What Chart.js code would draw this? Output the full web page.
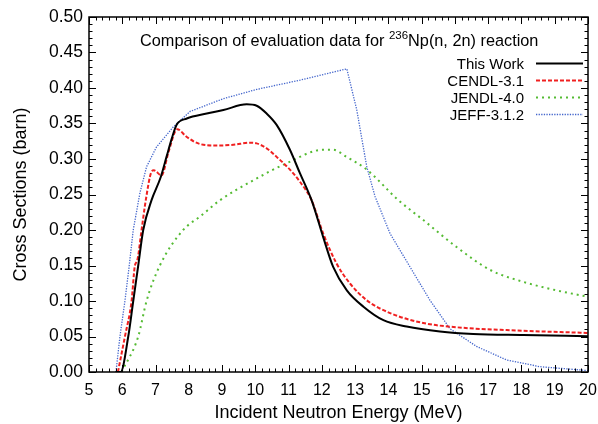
<!DOCTYPE html>
<html>
<head>
<meta charset="utf-8">
<script src="https://cdn.jsdelivr.net/npm/chart.js@4/dist/chart.umd.min.js"></script>
<style>
  html, body { margin:0; padding:0; background:#fff; }
  #wrap { width:598px; height:424px; position:relative; }
</style>
</head>
<body>
<div id="wrap"><canvas id="xsChart"></canvas></div>
<script>
// energies (MeV) and cross sections (barn)
const thisWorkE  = [5.8, 5.95, 6.18, 6.33, 6.48, 6.63, 6.88, 7.16, 7.33, 7.49, 7.63, 7.94, 8.54, 9.04, 9.74, 10.04, 10.34, 10.64, 11.04, 11.34, 11.69, 12.04, 12.34, 12.75, 13.25, 13.85, 14.55, 15.55, 16.55, 18.05, 20];
const thisWorkXS = [0, 0, 0.05, 0.10, 0.15, 0.20, 0.242, 0.275, 0.303, 0.329, 0.348, 0.357, 0.364, 0.369, 0.377, 0.375, 0.364, 0.348, 0.313, 0.280, 0.242, 0.19, 0.148, 0.115, 0.092, 0.073, 0.064, 0.057, 0.0535, 0.052, 0.0505];

const cendlE  = [5.87, 6.08, 6.28, 6.38, 6.45, 6.58, 6.70, 6.88, 6.95, 7.18, 7.38, 7.58, 7.65, 7.94, 8.34, 8.84, 9.34, 9.84, 10.04, 10.34, 10.64, 11.04, 11.34, 11.69, 12.04, 12.44, 12.84, 13.35, 14.05, 15.05, 16.05, 17.55, 20];
const cendlXS = [0, 0.05, 0.10, 0.15, 0.157, 0.20, 0.24, 0.282, 0.284, 0.277, 0.308, 0.338, 0.342, 0.331, 0.321, 0.319, 0.320, 0.323, 0.322, 0.315, 0.303, 0.285, 0.268, 0.242, 0.195, 0.153, 0.125, 0.101, 0.083, 0.069, 0.063, 0.059, 0.055];

const jendlE  = [5.98, 6.48, 6.73, 7.13, 7.83, 8.34, 8.94, 9.94, 10.94, 12.04, 12.34, 12.74, 13.35, 14.30, 15.05, 16.05, 17.05, 18.05, 19.05, 20];
const jendlXS = [0, 0.05, 0.10, 0.15, 0.20, 0.219, 0.242, 0.270, 0.294, 0.313, 0.313, 0.303, 0.285, 0.242, 0.214, 0.176, 0.144, 0.127, 0.115, 0.106];

const jeffE  = [5.81, 5.93, 6.08, 6.21, 6.33, 6.53, 6.73, 7.03, 7.53, 8.04, 9.04, 10.04, 11.34, 12.75, 13.05, 13.35, 13.6, 14.05, 14.65, 15.25, 15.85, 16.65, 17.55, 18.55, 20];
const jeffXS = [0, 0.05, 0.10, 0.15, 0.20, 0.252, 0.289, 0.317, 0.345, 0.367, 0.385, 0.398, 0.411, 0.427, 0.369, 0.289, 0.247, 0.195, 0.148, 0.101, 0.061, 0.036, 0.017, 0.0075, 0.002];

const seriesNames = ['This Work', 'CENDL-3.1', 'JENDL-4.0', 'JEFF-3.1.2'];
const xRange = [5, 20];
const yRange = [0, 0.5];

const FONT = "'Liberation Sans', Arial, Helvetica, sans-serif";

function pts(xs, ys){ return xs.map((x, i) => ({ x, y: ys[i] })); }

const styles = [
  { color:'#000000', width:2,   dash:[],         mono:true },
  { color:'#f02020', width:2,   dash:[4, 2],     mono:true },
  { color:'#55bb33', width:2,   dash:[2, 4],     mono:true },
  { color:'#4466cc', width:1.3, dash:[1.3, 1.3], mono:false }
];
const rawData = [[thisWorkE, thisWorkXS], [cendlE, cendlXS], [jendlE, jendlXS], [jeffE, jeffXS]];

const datasets = rawData.map((d, i) => ({
  label: seriesNames[i],
  data: pts(d[0], d[1]),
  borderColor: styles[i].color,
  borderWidth: styles[i].width,
  borderDash: styles[i].dash,
  pointRadius: 0,
  fill: false,
  cubicInterpolationMode: styles[i].mono ? 'monotone' : 'default',
  tension: 0
}));

// frame with inward major/minor ticks on all four sides
const framePlugin = {
  id: 'frame',
  afterDraw(chart){
    const { ctx, chartArea: a, scales } = chart;
    const xs = scales.x, ys = scales.y;
    ctx.save();
    ctx.strokeStyle = '#000';
    ctx.lineWidth = 1;
    ctx.beginPath();
    for(let v = 5; v <= 20.0001; v += 0.2){
      const px = Math.round(xs.getPixelForValue(v)) + 0.5;
      const major = Math.abs(v - Math.round(v)) < 1e-6;
      const len = major ? 7 : 3.5;
      ctx.moveTo(px, a.bottom); ctx.lineTo(px, a.bottom - len);
      ctx.moveTo(px, a.top); ctx.lineTo(px, a.top + len);
    }
    for(let k = 0; k <= 50; k++){
      const py = Math.round(ys.getPixelForValue(k * 0.01)) + 0.5;
      const len = (k % 5 === 0) ? 7 : 3.5;
      ctx.moveTo(a.left, py); ctx.lineTo(a.left + len, py);
      ctx.moveTo(a.right, py); ctx.lineTo(a.right - len, py);
    }
    ctx.stroke();
    ctx.lineWidth = 1.5;
    ctx.strokeRect(a.left, a.top, a.right - a.left, a.bottom - a.top);
    ctx.restore();
  }
};

// in-plot title and gnuplot-style key
const keyPlugin = {
  id: 'key',
  afterDatasetsDraw(chart){
    const { ctx } = chart;
    ctx.save();
    ctx.fillStyle = '#000';
    ctx.textBaseline = 'alphabetic';
    ctx.textAlign = 'left';
    // title with superscript
    let x = 140, base = 46;
    ctx.font = '16.3px ' + FONT;
    const p1 = 'Comparison of evaluation data for ';
    ctx.fillText(p1, x, base); x += ctx.measureText(p1).width;
    ctx.font = '11.5px ' + FONT;
    ctx.fillText('236', x, base - 7); x += ctx.measureText('236').width;
    ctx.font = '16.3px ' + FONT;
    ctx.fillText('Np(n, 2n) reaction', x, base);

    // key rows
    ctx.font = '15px ' + FONT;
    ctx.textAlign = 'right';
    ctx.textBaseline = 'middle';
    const rowY = [63.5, 80.5, 97.5, 114.5];
    chart.data.datasets.forEach((ds, i) => {
      const y = rowY[i];
      ctx.fillText(ds.label, 524, y + 1);
      ctx.beginPath();
      ctx.strokeStyle = ds.borderColor;
      ctx.lineWidth = ds.borderWidth;
      ctx.setLineDash(ds.borderDash);
      ctx.moveTo(536, y); ctx.lineTo(583, y);
      ctx.stroke();
      ctx.setLineDash([]);
    });
    ctx.restore();
  }
};

new Chart(document.getElementById('xsChart'), {
  type: 'line',
  data: { datasets },
  options: {
    responsive: true,
    maintainAspectRatio: false,
    animation: false,
    layout: { padding: { top: 17, right: 10, left: 0, bottom: 0 } },
    plugins: { legend: { display: false }, tooltip: { enabled: false } },
    scales: {
      x: {
        type: 'linear',
        min: xRange[0], max: xRange[1],
        grid: { display: false, drawTicks: false },
        border: { display: false },
        ticks: { stepSize: 1, color: '#000', padding: 9, maxRotation: 0, autoSkip: false,
                 font: { family: FONT, size: 16 } },
        title: { display: true, text: 'Incident Neutron Energy (MeV)', color: '#000',
                 font: { family: FONT, size: 18 }, padding: { top: 2, bottom: 0 } },
        afterFit(s){ s.height = 52; s.paddingLeft = 0; s.paddingRight = 0; }
      },
      y: {
        type: 'linear',
        min: yRange[0], max: yRange[1],
        grid: { display: false, drawTicks: false },
        border: { display: false },
        ticks: { stepSize: 0.05, color: '#000', padding: 6,
                 font: { family: FONT, size: 17.5 },
                 callback: v => v.toFixed(2) },
        title: { display: true, text: 'Cross Sections (barn)', color: '#000',
                 font: { family: FONT, size: 18 }, padding: { top: 10, bottom: 0 } },
        afterFit(s){ s.width = 89; s.paddingTop = 0; s.paddingBottom = 0; }
      }
    }
  },
  plugins: [framePlugin, keyPlugin]
});
</script>
</body>
</html>
